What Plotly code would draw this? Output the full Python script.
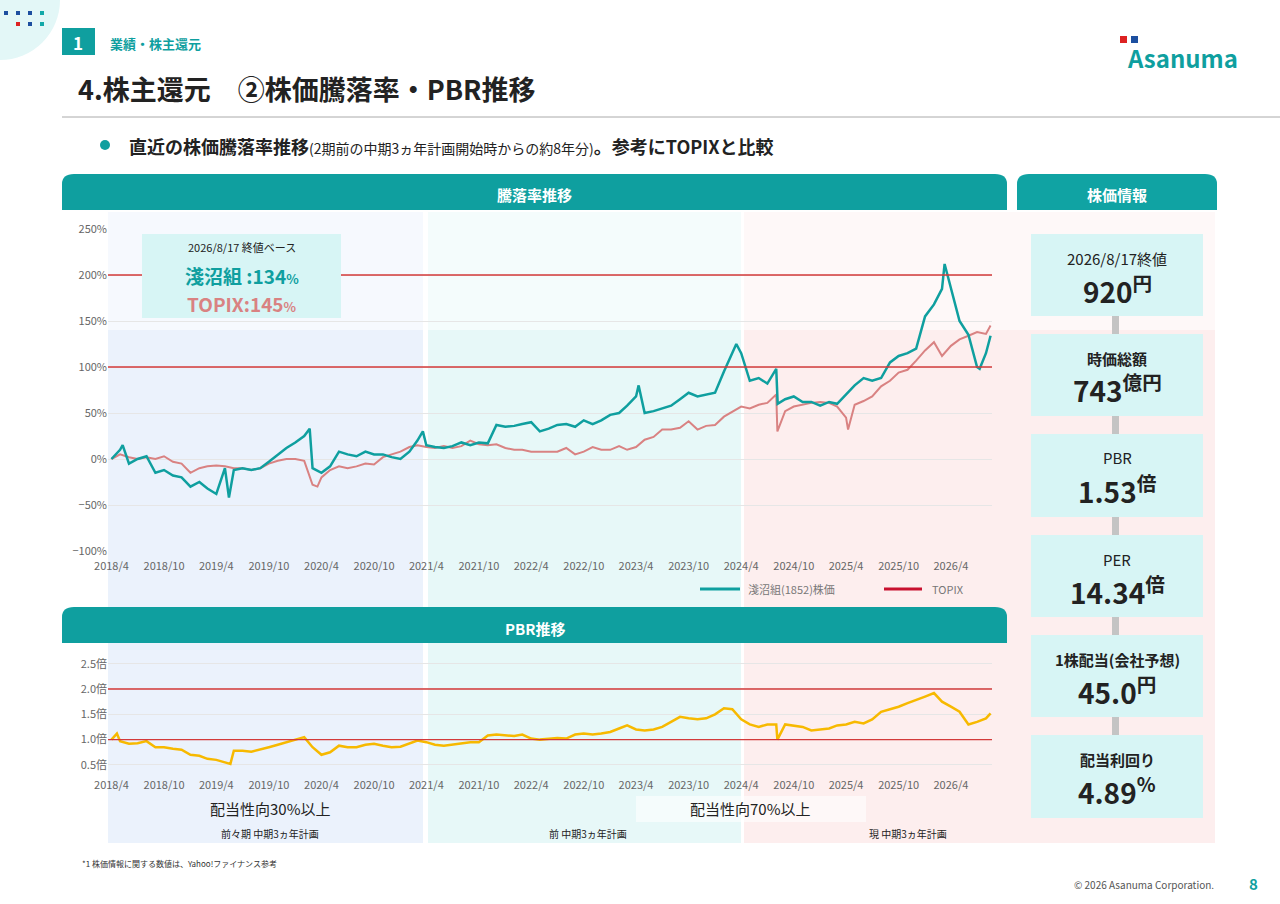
import pandas as pd
import plotly.graph_objects as go

W, H = 1280, 904
FONT = "Noto Sans CJK JP"
TEAL = "#0f9f9f"


def px(x):
    return x / W


def py(y):
    return 1 - y / H


# Monthly readings 2018/4 .. 2026/8, plus close on 2026/8/17
dates = list(pd.date_range("2018-04-01", periods=101, freq="MS")) + [pd.Timestamp("2026-08-17")]

asanuma = [0, 10, -5, 0, 3, -15, -12, -18, -20,
           -30, -25, -32, -38, -10, -12, -10, -12, -10, -3, 5, 12,
           18, 25, -10, -15, -8, 8, 5, 3, 8, 5, 5, 2,
           0, 8, 20, 15, 13, 12, 14, 18, 15, 18, 17, 37,
           35, 36, 38, 40, 30, 33, 37, 38, 35, 42, 38, 42,
           48, 50, 58, 68, 50, 52, 55, 58, 65, 72, 68, 70,
           72, 95, 115, 115, 85, 88, 82, 98, 65, 68, 62, 62,
           58, 62, 60, 70, 80, 88, 85, 88, 105, 112, 115, 120,
           155, 168, 185, 185, 150, 135, 100, 115, 134]
topix = [0, 5, 2, 0, 2, 0, 3, -3, -5,
         -15, -10, -8, -7, -8, -10, -10, -12, -10, -5, -2, 0,
         0, -2, -28, -20, -12, -8, -10, -8, -5, -6, 2, 5,
         8, 13, 15, 13, 12, 14, 12, 14, 20, 16, 15, 16,
         12, 10, 10, 8, 8, 8, 8, 12, 5, 8, 13, 10,
         10, 14, 10, 13, 21, 24, 32, 32, 34, 41, 32, 36,
         37, 46, 51, 57, 55, 59, 61, 70, 52, 57, 59, 61,
         62, 61, 57, 45, 59, 63, 68, 79, 85, 94, 97, 107,
         118, 127, 112, 123, 130, 134, 138, 136, 145]
pbr = [1.00, 0.97, 0.92, 0.93, 0.97, 0.85, 0.85, 0.82, 0.80,
       0.70, 0.68, 0.62, 0.60, 0.55, 0.78, 0.78, 0.76, 0.80, 0.85, 0.90, 0.95,
       1.00, 1.05, 0.85, 0.70, 0.75, 0.88, 0.85, 0.85, 0.90, 0.92, 0.88, 0.85,
       0.86, 0.93, 0.98, 0.95, 0.90, 0.88, 0.90, 0.92, 0.95, 0.95, 1.08, 1.10,
       1.08, 1.07, 1.10, 1.02, 1.00, 1.02, 1.03, 1.02, 1.10, 1.12, 1.10, 1.12,
       1.15, 1.22, 1.28, 1.20, 1.18, 1.20, 1.25, 1.35, 1.45, 1.42, 1.40, 1.42,
       1.50, 1.62, 1.60, 1.40, 1.30, 1.25, 1.30, 1.30, 1.30, 1.28, 1.25, 1.18,
       1.20, 1.22, 1.28, 1.30, 1.35, 1.32, 1.40, 1.55, 1.60, 1.65, 1.72, 1.78,
       1.85, 1.92, 1.75, 1.65, 1.55, 1.30, 1.35, 1.42, 1.52]

extra_asa = {"2018-05-10": 15, "2019-05-15": -42, "2020-02-20": 33, "2021-03-20": 30,
             "2023-04-10": 80, "2024-03-15": 125, "2024-08-06": 60, "2026-03-10": 212,
             "2026-07-10": 98}
extra_tpx = {"2020-03-18": -30, "2024-08-05": 30, "2025-04-08": 32}
extra_pbr = {"2018-04-20": 1.12, "2019-05-20": 0.52, "2024-08-05": 1.00}


def series(vals, extra):
    s = pd.Series(vals, index=dates)
    e = pd.Series(list(extra.values()), index=pd.to_datetime(list(extra.keys())))
    return pd.concat([s, e]).sort_index()


s_asa = series(asanuma, extra_asa)
s_tpx = series(topix, extra_tpx)
s_pbr = series(pbr, extra_pbr)

fig = go.Figure()
fig.add_scatter(x=s_tpx.index, y=s_tpx.values, mode="lines", line=dict(color="#d98282", width=2),
                xaxis="x", yaxis="y", showlegend=False)
fig.add_scatter(x=s_asa.index, y=s_asa.values, mode="lines", line=dict(color=TEAL, width=2.5),
                xaxis="x", yaxis="y", showlegend=False)
fig.add_scatter(x=s_pbr.index, y=s_pbr.values, mode="lines", line=dict(color="#f7b900", width=2.5),
                xaxis="x2", yaxis="y2", showlegend=False)

xr = ["2018-03-20", "2026-08-22"]
axis_font = dict(family=FONT, size=11, color="#666")
xtick = dict(dtick="M6", tick0="2018-04-01", tickformat="%Y/%-m", showgrid=False, tickfont=axis_font,
             ticks="outside", ticklen=5, tickcolor="rgba(0,0,0,0)", range=xr, automargin=False)
fig.update_layout(
    autosize=True, margin=dict(l=0, r=0, t=0, b=0, pad=0),
    paper_bgcolor="white", plot_bgcolor="rgba(0,0,0,0)",
    font=dict(family=FONT, color="#333"),
    xaxis=dict(domain=[px(108), px(992)], **xtick),
    yaxis=dict(domain=[py(551), py(229)], range=[-100, 250], dtick=50, ticksuffix="%", automargin=False,
               gridcolor="#e6e6e6", zeroline=False, tickfont=axis_font, anchor="x"),
    xaxis2=dict(domain=[px(108), px(992)], anchor="y2", **xtick),
    yaxis2=dict(domain=[py(770), py(651)], range=[0.4, 2.75], tickvals=[0.5, 1, 1.5, 2, 2.5],
                ticktext=["0.5倍", "1.0倍", "1.5倍", "2.0倍", "2.5倍"], automargin=False,
                gridcolor="#e6e6e6", zeroline=False, tickfont=axis_font, anchor="x2"),
)

shapes = []
ann = []


def rect(x0, y0, x1, y1, color, layer="below", line=None):
    shapes.append(dict(type="rect", xref="paper", yref="paper", x0=px(x0), x1=px(x1),
                       y0=py(y1), y1=py(y0), fillcolor=color, layer=layer,
                       line=line or dict(width=0)))


def text(x, y, s, size=12, color="#333", anchor="center", bold=False):
    if bold:
        s = "<b>" + s + "</b>"
    ann.append(dict(x=px(x), y=py(y), xref="paper", yref="paper", text=s, showarrow=False,
                    xanchor=anchor, yanchor="middle", font=dict(family=FONT, size=size, color=color)))


# plan period bands
for x0, x1, light, full in [(108, 423, "#f6f9fe", "#ebf2fc"),
                            (428, 741, "#f4fcfc", "#e7f8f8"),
                            (744, 1215, "#fef8f8", "#fdeeee")]:
    rect(x0, 212, x1, 330, light)
    rect(x0, 330, x1, 843, full)

# red reference lines
for yref, val in [("y", 100), ("y", 200), ("y2", 1), ("y2", 2)]:
    shapes.append(dict(type="line", xref="x domain" if yref == "y" else "x2 domain", yref=yref,
                       x0=0, x1=1, y0=val, y1=val, line=dict(color="#d33a3a", width=1.3), layer="above"))

# section header bars
for x0, x1, y0, y1, label in [(62, 1007, 174, 210, "騰落率推移"), (1017, 1217, 174, 210, "株価情報"),
                              (62, 1007, 607, 643, "PBR推移")]:
    shapes.append(dict(type="path", xref="paper", yref="paper", layer="above",
                       path=f"M {px(x0)},{py(y1)} L {px(x0)},{py(y0 + 10)} Q {px(x0)},{py(y0)} {px(x0 + 12)},{py(y0)} "
                            f"L {px(x1 - 12)},{py(y0)} Q {px(x1)},{py(y0)} {px(x1)},{py(y0 + 10)} L {px(x1)},{py(y1)} Z",
                       fillcolor=TEAL if label != "株価情報" else "#10a3a3", line=dict(width=0)))
    text((x0 + x1) / 2, (y0 + y1) / 2 + 3, label, 15, "white", bold=True)

# summary box inside chart
rect(142, 234, 341, 318, "#d7f5f5", layer="above")
text(242, 247, "2026/8/17 終値ベース", 11, "#222")
text(242, 275, "淺沼組 :134<span style='font-size:13px'>%</span>", 19, TEAL, bold=True)
text(242, 303, "TOPIX:145<span style='font-size:13px'>%</span>", 19, "#d98282", bold=True)

# legend
shapes.append(dict(type="line", xref="paper", yref="paper", x0=px(700), x1=px(740), y0=py(589), y1=py(589),
                   line=dict(color=TEAL, width=3)))
text(746, 589, "淺沼組(1852)株価", 11, "#777", "left")
shapes.append(dict(type="line", xref="paper", yref="paper", x0=px(884), x1=px(922), y0=py(589), y1=py(589),
                   line=dict(color="#c8102e", width=3)))
text(930, 589, "TOPIX", 11, "#777", "left")

# period captions
rect(636, 796, 866, 822, "rgba(255,255,255,0.6)", layer="above")
text(270, 808, "配当性向30%以上", 15, "#222")
text(750, 808, "配当性向70%以上", 15, "#222")
text(270, 833, "前々期 中期3ヵ年計画", 10, "#222")
text(588, 833, "前 中期3ヵ年計画", 10, "#222")
text(908, 833, "現 中期3ヵ年計画", 10, "#222")

# right info panel
boxes = [(234, 316, "2026/8/17終値", "920", "円"), (334, 416, "時価総額", "743", "億円"),
         (434, 517, "PBR", "1.53", "倍"), (535, 617, "PER", "14.34", "倍"),
         (635, 717, "1株配当(会社予想)", "45.0", "円"), (735, 818, "配当利回り", "4.89", "%")]
for i, (y0, y1, lab, num, unit) in enumerate(boxes):
    rect(1031, y0, 1203, y1, "#d7f5f5", layer="above")
    text(1117, y0 + 24, lab, 15, "#222", bold=lab in ("時価総額", "1株配当(会社予想)", "配当利回り"))
    text(1117, y0 + 55, f"<b>{num}</b><sup><b>{unit}</b></sup>", 28, "#222")
    if i < len(boxes) - 1:
        rect(1112, y1, 1119, boxes[i + 1][0], "#c4c4c4", layer="above")

# slide header
shapes.append(dict(type="circle", xref="paper", yref="paper", x0=px(-60), x1=px(60), y0=py(60), y1=py(-60),
                   fillcolor="#e3f7f7", line=dict(width=0)))
for dx, dy, c in [(6, 13, "#1d4fa0"), (18, 13, "#1d4fa0"), (30, 13, "#1d4fa0"), (42, 13, "#12a8a8"),
                  (18, 24, "#d22"), (30, 24, "#1d4fa0"), (42, 24, "#12a8a8")]:
    rect(dx - 2, dy - 2, dx + 2, dy + 2, c, layer="above")
rect(62, 28, 95, 55, TEAL, layer="above")
text(78, 42, "1", 17, "white", bold=True)
text(108, 44, "業績・株主還元", 13, TEAL, "left", bold=True)
text(76, 88, "4.株主還元　②株価騰落率・PBR推移", 27, "#222", "left", bold=True)
shapes.append(dict(type="line", xref="paper", yref="paper", x0=px(62), x1=1, y0=py(117), y1=py(117),
                   line=dict(color="#aaaaaa", width=1)))
shapes.append(dict(type="circle", xref="paper", yref="paper", x0=px(100), x1=px(110), y0=py(150), y1=py(140),
                   fillcolor=TEAL, line=dict(width=0)))
text(127, 146, "<b>直近の株価騰落率推移</b><span style='font-size:14px'>(2期前の中期3ヵ年計画開始時からの約8年分)</span><b>。参考にTOPIXと比較</b>",
     18, "#222", "left")
text(1182, 57, "<b>Asanuma</b>", 24, TEAL)
rect(1120, 36, 1127, 43, "#d22", layer="above")
rect(1131, 36, 1138, 43, "#1d4fa0", layer="above")

# footer
text(80, 863, "*1 株価情報に関する数値は、Yahoo!ファイナンス参考", 8, "#333", "left")
text(1216, 884, "© 2026 Asanuma Corporation.", 10, "#555", "right")
text(1253, 883, "8", 15, TEAL, bold=True)

fig.update_layout(shapes=shapes, annotations=ann)
fig.write_html("out.html", default_width="100vw", default_height="100vh",
               config={"displayModeBar": False},
               post_script="document.body.style.margin='0';document.body.style.overflow='hidden';"
                           "Plotly.Plots.resize(document.getElementById('{plot_id}'));")
